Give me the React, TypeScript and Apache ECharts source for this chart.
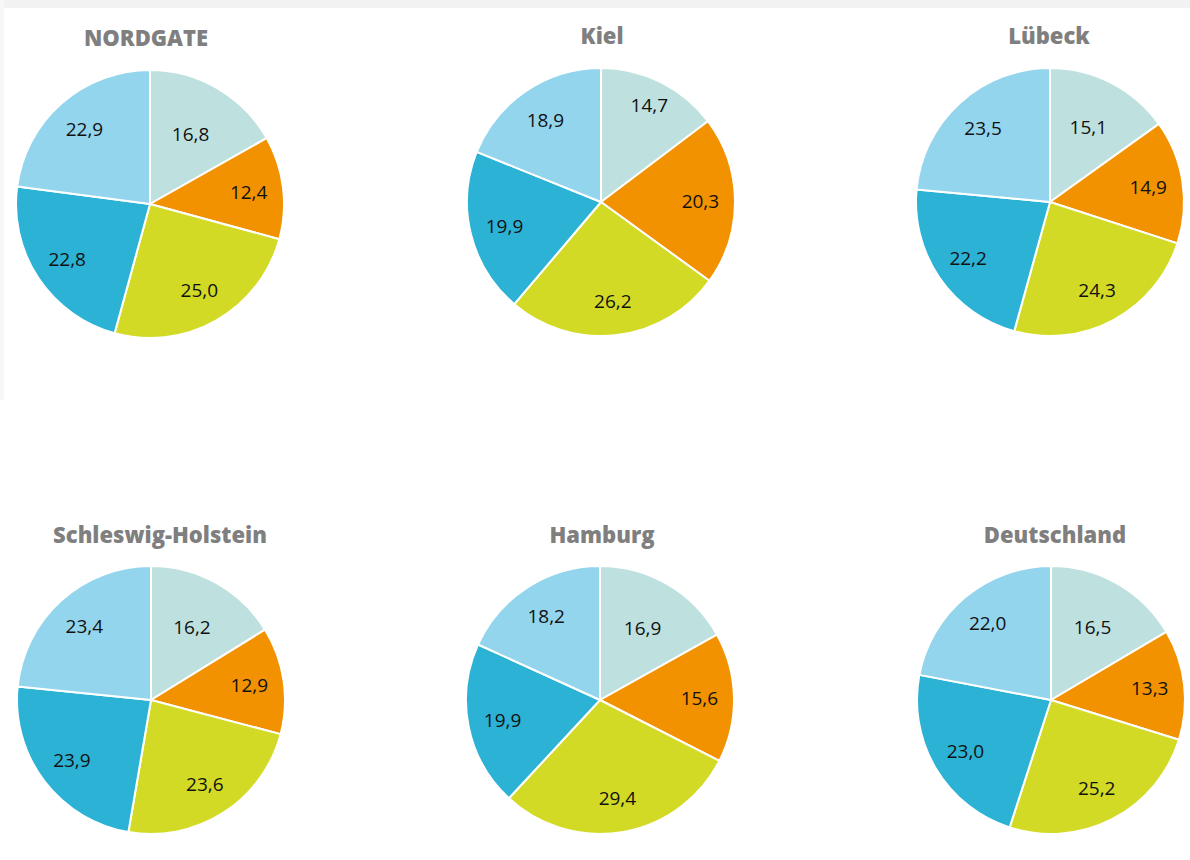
import React, { useEffect, useRef } from "react";
import * as echarts from "echarts";

const CATEGORIES = ["Anteil 1", "Anteil 2", "Anteil 3", "Anteil 4", "Anteil 5"];
const REGIONS = ["NORDGATE", "Kiel", "Lübeck", "Schleswig-Holstein", "Hamburg", "Deutschland"];
const NORDGATE = [16.8, 12.4, 25.0, 22.8, 22.9];
const KIEL = [14.7, 20.3, 26.2, 19.9, 18.9];
const LUEBECK = [15.1, 14.9, 24.3, 22.2, 23.5];
const SCHLESWIG_HOLSTEIN = [16.2, 12.9, 23.6, 23.9, 23.4];
const HAMBURG = [16.9, 15.6, 29.4, 19.9, 18.2];
const DEUTSCHLAND = [16.5, 13.3, 25.2, 23.0, 22.0];
const SERIES_VALUES = [NORDGATE, KIEL, LUEBECK, SCHLESWIG_HOLSTEIN, HAMBURG, DEUTSCHLAND];

const COLORS = ["#BEE1E0", "#F39200", "#D3DA26", "#2CB2D4", "#94D5EE"];

// layout (pixels)
const CENTERS: [number, number][] = [
  [150, 204], [601, 202], [1050, 202],
  [151, 700], [600, 700], [1051, 700],
];
const TITLE_X = [146, 602, 1049, 160, 602, 1055];
const TITLE_Y = [38, 36, 36, 535, 535, 535];
const RADIUS = 134;
const FIRST_LABEL_K = [1.15, 1.55, 1.2, 1.2, 1.2, 1.2];
const LABEL_K = 1.42;

const FONT = "'Open Sans', 'Noto Sans', sans-serif";

export default function App() {
  const ref = useRef<HTMLDivElement>(null);
  useEffect(() => {
    if (!ref.current) return;
    const chart = echarts.init(ref.current, undefined, { renderer: "svg" });
    const series = SERIES_VALUES.map((vals, i) => {
      const [cx, cy] = CENTERS[i];
      return {
        type: "pie",
        name: REGIONS[i],
        center: [cx, cy],
        radius: [0, RADIUS],
        startAngle: 90,
        clockwise: true,
        silent: true,
        emphasis: { disabled: true },
        itemStyle: { borderColor: "#ffffff", borderWidth: 2 },
        label: {
          show: true,
          position: "inside",
          align: "center",
          verticalAlign: "middle",
          color: "#111111",
          fontSize: 19,
          fontFamily: FONT,
          formatter: (p: any) => Number(p.value).toFixed(1).replace(".", ","),
        },
        labelLine: { show: false },
        labelLayout: (params: any) => {
          const r = params.labelRect;
          const lx = r.x + r.width / 2;
          const ly = r.y + r.height / 2;
          const k = params.dataIndex === 0 ? FIRST_LABEL_K[i] : LABEL_K;
          return { dx: (lx - cx) * (k - 1), dy: (ly - cy) * (k - 1) };
        },
        data: vals.map((v, j) => ({
          name: CATEGORIES[j],
          value: v,
          itemStyle: { color: COLORS[j] },
        })),
      };
    });
    const title = REGIONS.map((t, i) => ({
      text: t,
      left: TITLE_X[i],
      top: TITLE_Y[i] - 12,
      textAlign: "center",
      padding: 0,
      textStyle: {
        color: "#7f7f7f",
        fontSize: 22,
        fontWeight: 800,
        fontFamily: FONT,
      },
    }));
    chart.setOption({
      animation: false,
      backgroundColor: "#ffffff",
      title,
      graphic: [
        { type: "rect", left: 0, top: 0, shape: { width: 1190, height: 8 }, style: { fill: "#f2f2f2" }, silent: true },
        { type: "rect", left: 0, top: 0, shape: { width: 4, height: 400 }, style: { fill: "#f7f7f7" }, silent: true },
      ],
      series,
    });
    return () => chart.dispose();
  }, []);
  return (
    <div style={{ position: "absolute", left: 0, top: 0, width: 1190, height: 860 }}>
      <div ref={ref} style={{ width: 1190, height: 860 }} />
    </div>
  );
}
